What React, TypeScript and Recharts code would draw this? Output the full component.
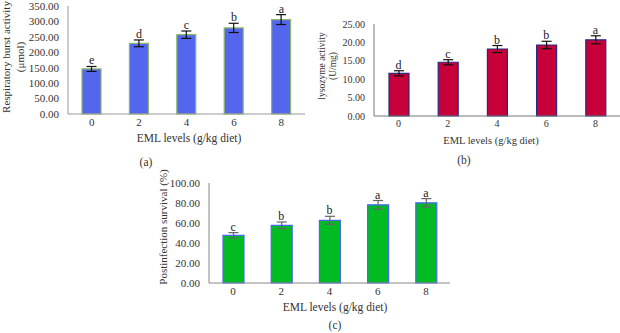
import type { CSSProperties, ReactNode } from "react";
import {
  Bar,
  ComposedChart,
  ErrorBar,
  LabelList,
  Line,
  XAxis,
  YAxis,
} from "recharts";

const doses = ["0", "2", "4", "6", "8"];

const burst = [146, 229, 257, 279, 306];
const burstErr = [8, 11, 12, 15, 16];
const burstGroups = ["e", "d", "c", "b", "a"];
const burstTicks = [0, 50, 100, 150, 200, 250, 300, 350];

const lysozyme = [11.6, 14.6, 18.2, 19.3, 20.7];
const lysozymeErr = [0.7, 0.7, 0.95, 1.0, 1.1];
const lysozymeGroups = ["d", "c", "b", "b", "a"];
const lysozymeTicks = [0, 5, 10, 15, 20, 25];

const survival = [47.7, 57.7, 62.7, 78.2, 80.2];
const survivalErr = [2.7, 3.3, 4, 4.3, 4.2];
const survivalGroups = ["c", "b", "b", "a", "a"];
const survivalTicks = [0, 20, 40, 60, 80, 100];

const FONT = "'Liberation Serif', 'DejaVu Serif', serif";

type Row = { dose: string; value: number; err: number; top: number; group: string };

function rows(values: number[], errs: number[], groups: string[]): Row[] {
  return doses.map((dose, i) => ({
    dose,
    value: values[i],
    err: errs[i],
    top: values[i] + errs[i],
    group: groups[i],
  }));
}

// rotated, possibly two-line y-axis title
function yTitle(lines: string[], xs: number[], fontSize: number, shift = 0) {
  return (props: any) => {
    const vb = props.viewBox || {};
    const cy = vb.y + vb.height / 2 + shift;
    return (
      <g>
        {lines.map((line, i) => (
          <text
            key={i}
            x={xs[i]}
            y={cy}
            transform={`rotate(-90, ${xs[i]}, ${cy})`}
            textAnchor="middle"
            dominantBaseline="central"
            fontSize={fontSize}
            fontFamily={FONT}
            fill="#333"
          >
            {line}
          </text>
        ))}
      </g>
    );
  };
}

type PanelProps = {
  data: Row[];
  ticks: number[];
  width: number;
  height: number;
  margin: { top: number; right: number; bottom: number; left: number };
  yWidth: number;
  barSize: number;
  fill: string;
  stroke: string;
  errColor: string;
  axisColor: string;
  fontSize: number;
  title: ReactNode;
};

function Panel(p: PanelProps) {
  const tick = { fill: "#333", fontSize: p.fontSize, fontFamily: FONT };
  return (
    <ComposedChart width={p.width} height={p.height} data={p.data} margin={p.margin}>
      <XAxis
        dataKey="dose"
        tick={tick}
        tickLine={false}
        tickSize={2}
        stroke={p.axisColor}
        height={20}
      />
      <YAxis
        domain={[0, p.ticks[p.ticks.length - 1]]}
        ticks={p.ticks}
        interval={0}
        tickFormatter={(v) => Number(v).toFixed(2)}
        tick={tick}
        tickLine={false}
        tickMargin={3}
        stroke={p.axisColor}
        width={p.yWidth}
        label={{ content: p.title as any }}
      />
      <Bar
        dataKey="value"
        fill={p.fill}
        stroke={p.stroke}
        strokeWidth={1.2}
        barSize={p.barSize}
        isAnimationActive={false}
      >
        <ErrorBar dataKey="err" width={5} stroke={p.errColor} strokeWidth={1.2} />
      </Bar>
      <Line
        dataKey="top"
        stroke="none"
        dot={false}
        activeDot={false}
        isAnimationActive={false}
      >
        <LabelList
          dataKey="group"
          position="top"
          offset={2}
          style={{ fontSize: 12, fontFamily: FONT, fill: "#222" }}
        />
      </Line>
    </ComposedChart>
  );
}

const caption: CSSProperties = {
  position: "absolute",
  transform: "translate(-50%, -50%)",
  fontFamily: FONT,
  fontSize: 11.5,
  color: "#333",
  whiteSpace: "nowrap",
};

export default function App() {
  return (
    <div
      style={{
        position: "absolute",
        left: 0,
        top: 0,
        width: 620,
        height: 333,
        background: "#fff",
        overflow: "hidden",
      }}
    >
      <div style={{ position: "absolute", left: 0, top: 0 }}>
        <Panel
          data={rows(burst, burstErr, burstGroups)}
          ticks={burstTicks}
          width={310}
          height={150}
          margin={{ top: 6, right: 5, bottom: 16, left: 0 }}
          yWidth={68}
          barSize={19}
          fill="#5566ee"
          stroke="#8cb86a"
          errColor="#111"
          axisColor="#999"
          fontSize={11}
          title={yTitle(["Respiratory burst activity", "(μmol)"], [6, 20], 11, -3)}
        />
      </div>
      <div style={{ position: "absolute", left: 300, top: 0 }}>
        <Panel
          data={rows(lysozyme, lysozymeErr, lysozymeGroups)}
          ticks={lysozymeTicks}
          width={320}
          height={150}
          margin={{ top: 24, right: 0, bottom: 14, left: 0 }}
          yWidth={74}
          barSize={20}
          fill="#c8003a"
          stroke="#2a2a80"
          errColor="#111"
          axisColor="#777"
          fontSize={10}
          title={yTitle(["lysozyme activity", "(U/mg)"], [22, 33], 9.5, -4)}
        />
      </div>
      <div style={{ position: "absolute", left: 150, top: 160 }}>
        <Panel
          data={rows(survival, survivalErr, survivalGroups)}
          ticks={survivalTicks}
          width={310}
          height={173}
          margin={{ top: 23, right: 10, bottom: 30, left: 0 }}
          yWidth={59}
          barSize={21}
          fill="#00bb22"
          stroke="#4a66ff"
          errColor="#666"
          axisColor="#888"
          fontSize={11}
          title={yTitle(["Postinfection survival (%)"], [13], 11, -6)}
        />
      </div>

      <div style={{ ...caption, left: 189, top: 138 }}>EML levels (g/kg diet)</div>
      <div style={{ ...caption, left: 146, top: 162 }}>(a)</div>
      <div style={{ ...caption, left: 491, top: 140, fontSize: 10.5 }}>
        EML levels (g/kg diet)
      </div>
      <div style={{ ...caption, left: 464, top: 160 }}>(b)</div>
      <div style={{ ...caption, left: 335, top: 307 }}>EML levels (g/kg diet)</div>
      <div style={{ ...caption, left: 335, top: 325 }}>(c)</div>
    </div>
  );
}
